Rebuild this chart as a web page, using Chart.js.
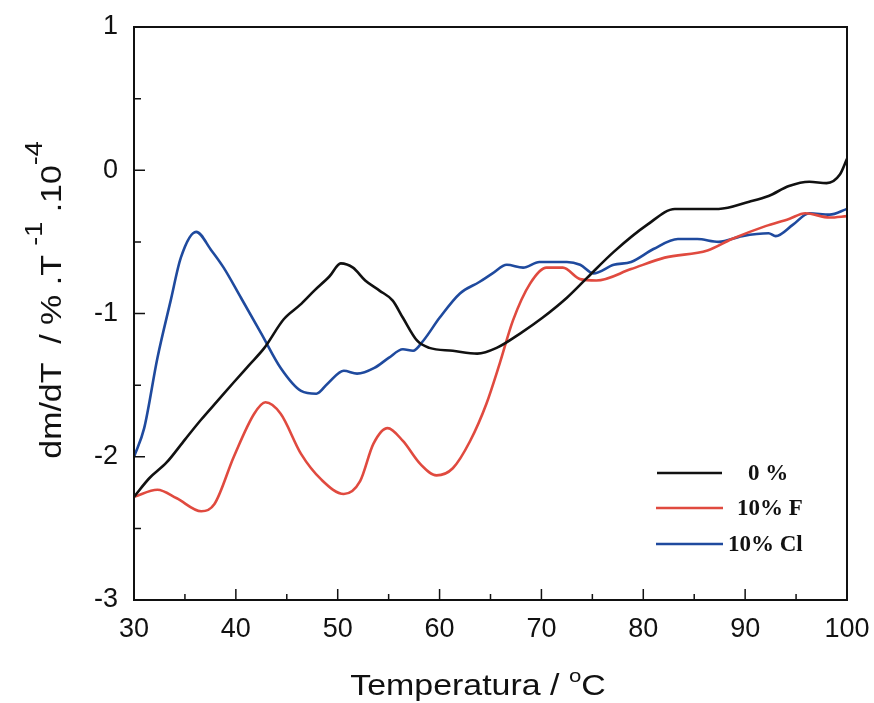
<!DOCTYPE html>
<html>
<head>
<meta charset="utf-8">
<script src="https://cdn.jsdelivr.net/npm/chart.js@4"></script>
<style>
  html, body { margin: 0; padding: 0; background: #fff; }
  #wrap { width: 874px; height: 703px; position: relative; }
</style>
</head>
<body>
<div id="wrap"><canvas id="c"></canvas></div>
<script>
// temperature (°C) and dm/dT (%.T^-1 .10^-4)
const pureT = [30, 31.5, 33.2, 35, 36.6, 38.2, 39.8, 41.3, 42.8, 44.7, 46.3, 47.7, 49.2, 50.3, 51.5, 52.7, 54.1, 55.4, 56.4, 57.8, 59.0, 61.3, 63.7, 65.6, 67.9, 70.1, 72.5, 74.5, 77.1, 80.4, 83.1, 85.5, 87.4, 90.4, 92.3, 94.3, 96.3, 98.0, 99.3, 100];
const pureV = [-2.28, -2.15, -2.04, -1.88, -1.74, -1.61, -1.48, -1.36, -1.24, -1.04, -0.94, -0.84, -0.74, -0.65, -0.68, -0.77, -0.84, -0.91, -1.03, -1.19, -1.24, -1.26, -1.28, -1.24, -1.14, -1.03, -0.89, -0.75, -0.57, -0.38, -0.27, -0.27, -0.27, -0.22, -0.18, -0.11, -0.08, -0.09, -0.03, 0.08];

const fluorT = [30, 32.3, 34.2, 36.6, 37.9, 39.8, 41.8, 42.9, 44.4, 46.4, 48.4, 50.6, 52.2, 53.5, 54.9, 56.4, 58.1, 59.7, 61.3, 63.0, 64.6, 65.9, 67.2, 68.9, 70.5, 72.1, 73.8, 75.4, 78.8, 82.1, 86.3, 88.7, 92.0, 94.3, 95.9, 98.3, 100];
const fluorV = [-2.28, -2.23, -2.29, -2.38, -2.33, -2.0, -1.70, -1.62, -1.70, -1.98, -2.16, -2.26, -2.17, -1.91, -1.80, -1.89, -2.05, -2.13, -2.08, -1.89, -1.63, -1.35, -1.05, -0.79, -0.68, -0.68, -0.76, -0.77, -0.69, -0.61, -0.56, -0.48, -0.39, -0.34, -0.30, -0.33, -0.32];

const chlorT = [30, 31, 32.3, 33.6, 34.6, 36.1, 37.6, 38.8, 40.5, 42.5, 44.4, 46.4, 47.9, 49.0, 50.6, 51.9, 53.6, 55.0, 56.4, 57.4, 58.4, 60.0, 62.0, 63.9, 65.2, 66.6, 68.2, 69.8, 72.5, 73.8, 75.1, 77.1, 78.8, 81.0, 83.4, 85.3, 87.4, 89.7, 92.3, 93.0, 94.7, 96.3, 98.3, 100];
const chlorV = [-2.0, -1.80, -1.31, -0.91, -0.61, -0.43, -0.56, -0.68, -0.89, -1.14, -1.38, -1.54, -1.56, -1.49, -1.40, -1.42, -1.38, -1.31, -1.25, -1.26, -1.19, -1.03, -0.86, -0.78, -0.72, -0.66, -0.68, -0.64, -0.64, -0.66, -0.72, -0.66, -0.64, -0.55, -0.48, -0.48, -0.50, -0.46, -0.44, -0.46, -0.38, -0.30, -0.31, -0.27];

const seriesNames = ["0 %", "10% F", "10% Cl"];
const seriesColors = ["#111111", "#e04a3f", "#1f4a9e"];
const xTicks = [30, 40, 50, 60, 70, 80, 90, 100];
const yTicks = [-3, -2, -1, 0, 1];

const SANS = '"Liberation Sans", Arial, sans-serif';
const SERIF = '"Liberation Serif", "Times New Roman", serif';
const STRETCH = 1.17; // the scanned titles are wider than plain Arial

function toPoints(xs, ys) {
  return xs.map((x, i) => ({ x, y: ys[i] }));
}

// draws runs of text (with raised pieces) centred at the current origin
function drawRuns(ctx, parts) {
  let total = 0;
  parts.forEach((p) => {
    ctx.font = p.s + "px " + SANS;
    p.w = ctx.measureText(p.t).width;
    total += p.w;
  });
  let px = -total / 2;
  parts.forEach((p) => {
    ctx.font = p.s + "px " + SANS;
    ctx.fillText(p.t, px, -p.up);
    px += p.w;
  });
}

// frame, inward ticks, axis titles, legend
const framePlugin = {
  id: "frame",
  afterDraw(chart) {
    const ctx = chart.ctx;
    const a = chart.chartArea;
    const xs = chart.scales.x;
    const ys = chart.scales.y;
    ctx.save();
    ctx.strokeStyle = "#111";
    ctx.lineWidth = 2;
    ctx.strokeRect(a.left, a.top, a.right - a.left, a.bottom - a.top);

    ctx.lineWidth = 1.5;
    ctx.beginPath();
    for (let v = 30; v <= 100; v += 5) {
      const px = xs.getPixelForValue(v);
      const len = v % 10 === 0 ? 11 : 6;
      ctx.moveTo(px, a.bottom);
      ctx.lineTo(px, a.bottom - len);
    }
    for (let v = -3; v <= 1; v += 0.5) {
      const py = ys.getPixelForValue(v);
      const len = Number.isInteger(v) ? 11 : 7;
      ctx.moveTo(a.left, py);
      ctx.lineTo(a.left + len, py);
    }
    ctx.stroke();

    ctx.fillStyle = "#111";
    ctx.textBaseline = "alphabetic";
    ctx.textAlign = "left";

    // x title
    ctx.save();
    ctx.translate(478, 695);
    ctx.scale(STRETCH, 1);
    drawRuns(ctx, [
      { t: "Temperatura / ", s: 29, up: 0 },
      { t: "o", s: 19, up: 13 },
      { t: "C", s: 29, up: 0 },
    ]);
    ctx.restore();

    // y title, rotated
    ctx.save();
    ctx.translate(61, 300);
    ctx.rotate(-Math.PI / 2);
    ctx.scale(STRETCH, 1);
    drawRuns(ctx, [
      { t: "dm/dT  / % .T ", s: 29, up: 0 },
      { t: "-1", s: 23, up: 19 },
      { t: " .10", s: 29, up: 0 },
      { t: "-4", s: 23, up: 19 },
    ]);
    ctx.restore();

    // legend
    const rows = [
      { y: 473, x0: 657, x1: 722, tx: 748 },
      { y: 508, x0: 656, x1: 723, tx: 737 },
      { y: 544, x0: 656, x1: 723, tx: 728 },
    ];
    ctx.font = "bold 23px " + SERIF;
    ctx.textBaseline = "middle";
    rows.forEach((r, i) => {
      ctx.strokeStyle = seriesColors[i];
      ctx.lineWidth = 2.5;
      ctx.beginPath();
      ctx.moveTo(r.x0, r.y);
      ctx.lineTo(r.x1, r.y);
      ctx.stroke();
      ctx.fillStyle = "#111";
      ctx.fillText(seriesNames[i], r.tx, r.y + 1);
    });
    ctx.restore();
  },
};

const lineStyle = (i) => ({
  borderColor: seriesColors[i],
  backgroundColor: seriesColors[i],
  borderWidth: 2.6,
  pointRadius: 0,
  cubicInterpolationMode: "monotone",
  fill: false,
});

new Chart(document.getElementById("c"), {
  type: "line",
  data: {
    datasets: [
      { label: seriesNames[0], data: toPoints(pureT, pureV), ...lineStyle(0) },
      { label: seriesNames[1], data: toPoints(fluorT, fluorV), ...lineStyle(1) },
      { label: seriesNames[2], data: toPoints(chlorT, chlorV), ...lineStyle(2) },
    ],
  },
  plugins: [framePlugin],
  options: {
    responsive: true,
    maintainAspectRatio: false,
    animation: false,
    layout: { padding: { left: 0, top: 27, right: 27, bottom: 0 } },
    plugins: {
      legend: { display: false },
      tooltip: { enabled: false },
    },
    scales: {
      x: {
        type: "linear",
        min: 30,
        max: 100,
        afterFit: (s) => {
          s.height = 103;
          s.paddingLeft = 0;
          s.paddingRight = 0;
        },
        afterBuildTicks: (s) => { s.ticks = xTicks.map((v) => ({ value: v })); },
        grid: { display: false, drawTicks: false },
        border: { display: false },
        ticks: {
          color: "#111",
          padding: 13,
          maxRotation: 0,
          font: { family: SANS, size: 27 },
        },
      },
      y: {
        type: "linear",
        min: -3,
        max: 1,
        afterFit: (s) => {
          s.width = 134;
          s.paddingTop = 0;
          s.paddingBottom = 0;
        },
        afterBuildTicks: (s) => { s.ticks = yTicks.map((v) => ({ value: v })); },
        grid: { display: false, drawTicks: false },
        border: { display: false },
        ticks: {
          color: "#111",
          padding: 16,
          font: { family: SANS, size: 27 },
        },
      },
    },
  },
});
</script>
</body>
</html>
